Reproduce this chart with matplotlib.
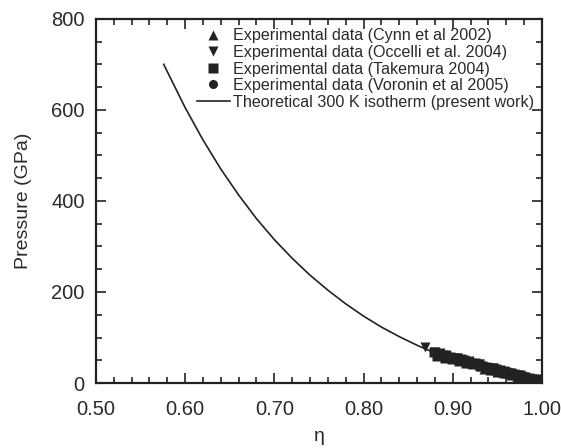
import matplotlib
matplotlib.use('Agg')
import matplotlib.pyplot as plt
from matplotlib.ticker import MultipleLocator, FormatStrFormatter

plt.rcParams['font.family'] = ['Liberation Sans', 'DejaVu Sans']

# =============================================
# Data
# =============================================

# theoretical 300 K isotherm
eta_theory = [0.576, 0.58, 0.60, 0.62, 0.64, 0.66, 0.68, 0.70, 0.72, 0.74,
              0.76, 0.78, 0.80, 0.82, 0.84, 0.86, 0.88, 0.90, 0.92, 0.94,
              0.96, 0.98, 1.00]
P_theory = [700, 684, 605, 534, 470, 413, 361, 315, 274, 237,
            204, 174, 147, 123, 102, 83, 66, 51, 38, 26,
            16, 7, 0]

# Cynn et al 2002
eta_cynn = [0.935, 0.942, 0.950, 0.957, 0.965, 0.972, 0.980, 0.987, 0.995]
P_cynn = [31, 28, 24, 21, 17, 14, 10, 7, 3]

# Occelli et al. 2004
eta_occelli = [0.869, 0.880, 0.886, 0.893, 0.905, 0.918, 0.930, 0.945,
               0.960, 0.975, 0.990]
P_occelli = [79, 69, 66, 62, 56, 48, 41, 33, 25, 17, 9]

# Takemura 2004
eta_take = [0.879, 0.884, 0.889, 0.893, 0.897, 0.901, 0.905, 0.909, 0.913,
            0.917, 0.921, 0.925, 0.929, 0.933, 0.937, 0.941, 0.945, 0.949,
            0.953, 0.957, 0.961, 0.965, 0.969, 0.973, 0.977, 0.981, 0.985,
            0.989, 0.993, 0.997, 1.000,
            0.882, 0.891, 0.899, 0.907, 0.915, 0.923, 0.931, 0.939, 0.947,
            0.955, 0.963, 0.971, 0.979, 0.987, 0.995, 1.000]
P_take = [68, 64, 62, 60, 58, 56, 54, 52, 50,
          47, 45, 43, 41, 38, 36, 34, 32, 30,
          28, 26, 23, 21, 19, 17, 15, 13, 11,
          9, 7, 5, 3,
          60, 56, 52, 48, 44, 41, 37, 33, 29,
          25, 21, 17, 13, 9, 4, 8]

# Voronin et al 2005
eta_voronin = [0.952, 0.960, 0.968, 0.976, 0.984, 0.992, 0.999]
P_voronin = [25, 21, 17, 13, 9, 5, 2]

# =============================================
# Plot
# =============================================

txt = '#2a2a2a'
fig = plt.figure(figsize=(5.61, 4.48), dpi=100)
ax = fig.add_axes([0.171, 0.145, 0.795, 0.813])

ms = 6.5
ax.plot(eta_cynn, P_cynn, '^', color='#222222', ms=ms, mec='none',
        label='Experimental data (Cynn et al 2002)')
ax.plot(eta_occelli, P_occelli, 'v', color='#222222', ms=ms, mec='none',
        label='Experimental data (Occelli et al. 2004)')
ax.plot(eta_take, P_take, 's', color='#222222', ms=ms, mec='none',
        label='Experimental data (Takemura 2004)')
ax.plot(eta_voronin, P_voronin, 'o', color='#222222', ms=ms, mec='none',
        label='Experimental data (Voronin et al 2005)')
ax.plot(eta_theory, P_theory, '-', color='#222222', lw=1.2,
        label='Theoretical 300 K isotherm (present work)')

ax.set_xlim(0.5, 1.0)
ax.set_ylim(0, 800)
ax.xaxis.set_major_locator(MultipleLocator(0.1))
ax.xaxis.set_minor_locator(MultipleLocator(0.02))
ax.xaxis.set_major_formatter(FormatStrFormatter('%.2f'))
ax.yaxis.set_major_locator(MultipleLocator(200))
ax.yaxis.set_minor_locator(MultipleLocator(50))

ax.tick_params(which='both', direction='in', top=True, right=True,
               colors='#222222', labelcolor=txt, labelsize=14.5, width=1.2)
ax.tick_params(which='major', length=7)
ax.tick_params(which='minor', length=4)
ax.tick_params(axis='x', which='major', pad=12)
ax.tick_params(axis='y', which='major', pad=8)
for s in ax.spines.values():
    s.set_linewidth(1.6)
    s.set_color('#222222')

ax.set_xlabel('\u03b7', fontsize=14, color=txt, labelpad=7)
ax.set_ylabel('Pressure (GPa)', fontsize=14, color=txt, labelpad=14)

leg = ax.legend(loc='upper left', bbox_to_anchor=(0.2265, 0.974), frameon=False,
                fontsize=11.6, handlelength=2.05, handletextpad=0.2,
                labelspacing=0.1, borderaxespad=0, borderpad=0)
for t in leg.get_texts():
    t.set_color(txt)

fig.savefig('out.png', dpi=100)
